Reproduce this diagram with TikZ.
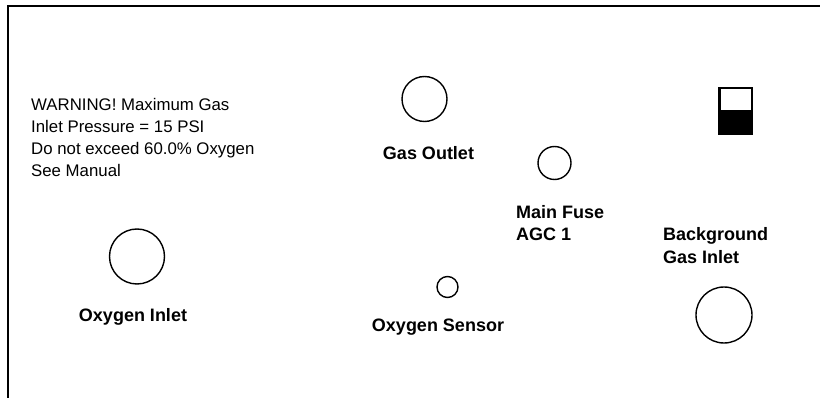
\documentclass[tikz,border=0pt]{standalone}
\usepackage{fontspec}
\setmainfont{Liberation Sans}
\begin{document}
\begin{tikzpicture}[x=1pt,y=-1pt,
  port/.style={draw=black,line width=1.4pt,circle,inner sep=0pt},
  lbl/.style={font=\fontsize{18}{22.3}\selectfont\bfseries,inner sep=0pt},
  warn/.style={font=\fontsize{16.8}{22}\selectfont,inner sep=0pt,align=left}]
\useasboundingbox (0,0) rectangle (820,398);
% frame
\draw[line width=2pt] (8,398) -- (8,6.5) -- (820,6.5);
% warning text
\node[warn,anchor=north west] (warning) at (31,98) {WARNING! Maximum Gas\\Inlet Pressure = 15 PSI\\Do not exceed 60.0\% Oxygen\\See Manual};
% ports
\node[port,minimum size=45pt] (gasout) at (424.5,99) {};
\node[lbl] (gasoutl) at (428.5,153) {Gas Outlet};
\node[port,minimum size=33pt] (fuse) at (554.5,163) {};
\node[lbl,align=left,anchor=west] (fusel) at (516,223) {Main Fuse\\AGC 1};
\node[lbl,align=left,anchor=west] (bgl) at (663,245.5) {Background\\Gas Inlet};
\node[port,minimum size=56pt] (bg) at (724,315) {};
\node[port,minimum size=55pt] (oxin) at (137,256.5) {};
\node[lbl] (oxinl) at (133,317) {Oxygen Inlet};
\node[port,minimum size=21pt] (oxsens) at (447.5,287) {};
\node[lbl] (oxsensl) at (438,327) {Oxygen Sensor};
% switch
\fill[black] (718,87) rectangle (753,135);
\fill[white] (721,89.5) rectangle (750.5,110.5);
\end{tikzpicture}
\end{document}
